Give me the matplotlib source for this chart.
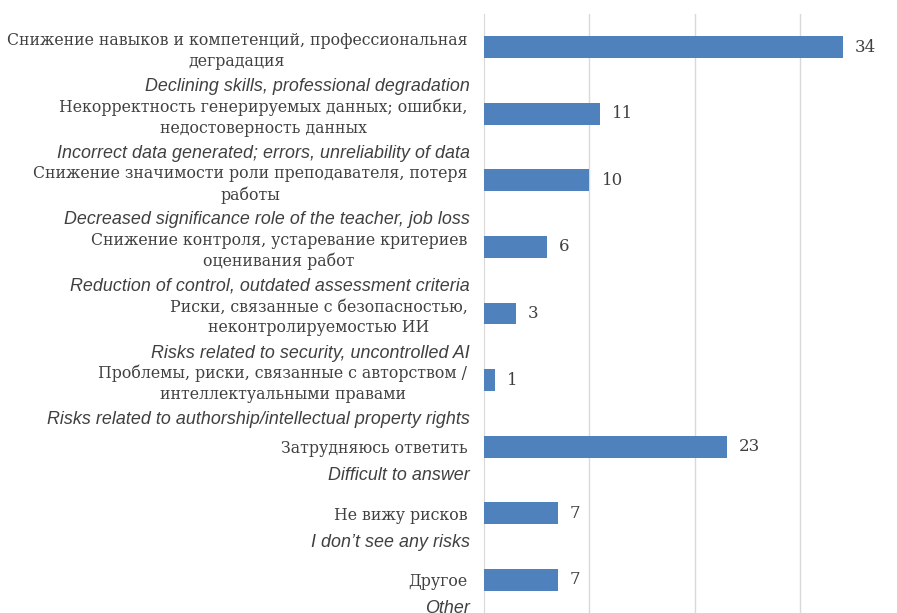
import matplotlib
matplotlib.use("Agg")
import matplotlib.pyplot as plt

# Perceived risks of AI use (number of respondents)
labels_ru = [
    "Снижение навыков и компетенций, профессиональная\nдеградация",
    "Некорректность генерируемых данных; ошибки,\nнедостоверность данных",
    "Снижение значимости роли преподавателя, потеря\nработы",
    "Снижение контроля, устаревание критериев\nоценивания работ",
    "Риски, связанные с безопасностью,\nнеконтролируемостью ИИ",
    "Проблемы, риски, связанные с авторством /\nинтеллектуальными правами",
    "Затрудняюсь ответить",
    "Не вижу рисков",
    "Другое",
]
labels_en = [
    "Declining skills, professional degradation",
    "Incorrect data generated; errors, unreliability of data",
    "Decreased significance role of the teacher, job loss",
    "Reduction of control, outdated assessment criteria",
    "Risks related to security, uncontrolled AI",
    "Risks related to authorship/intellectual property rights",
    "Difficult to answer",
    "I don\u2019t see any risks",
    "Other",
]
counts = [34, 11, 10, 6, 3, 1, 23, 7, 7]

text_color = "#404040"
bar_color = "#4F81BD"
grid_color = "#D9D9D9"
serif = "DejaVu Serif"
italic_font = "Liberation Sans"

fig = plt.figure(figsize=(8.97, 6.13), dpi=100)
ax = fig.add_axes([484 / 897, 0.0, 1 - 484 / 897, 1 - 14 / 613])

ypos = list(range(len(counts)))
ax.barh(ypos, counts, height=0.33, color=bar_color, zorder=3)
ax.set_xlim(0, 39.15)
ax.set_ylim(len(counts) - 0.5, -0.5)

ax.set_xticks([10, 20, 30])
ax.set_xticklabels([])
ax.tick_params(axis="x", length=0)
ax.grid(axis="x", color=grid_color, linewidth=1, zorder=0)

for s in ["top", "right", "bottom"]:
    ax.spines[s].set_visible(False)
ax.spines["left"].set_color(grid_color)

ax.set_yticks(ypos)
ax.set_yticklabels(labels_ru, fontfamily=serif, fontsize=11.3, color=text_color,
                   multialignment="center", linespacing=1.3)
ax.tick_params(axis="y", length=0, pad=12)

# English translation under each Russian label
for i, (en, ru) in enumerate(zip(labels_en, labels_ru)):
    nlines = ru.count("\n") + 1
    dy = -(nlines - 1) * 10.5 - 29
    ax.annotate(en, xy=(0, i), xytext=(-14, dy), textcoords="offset pixels",
                ha="right", va="center", fontsize=12.9, style="italic",
                fontfamily=italic_font, color=text_color, annotation_clip=False)

for i, v in enumerate(counts):
    ax.annotate(str(v), xy=(v, i), xytext=(12, 0), textcoords="offset pixels",
                ha="left", va="center", fontsize=12, fontfamily=serif,
                color=text_color)

fig.savefig("out.png", dpi=100)
